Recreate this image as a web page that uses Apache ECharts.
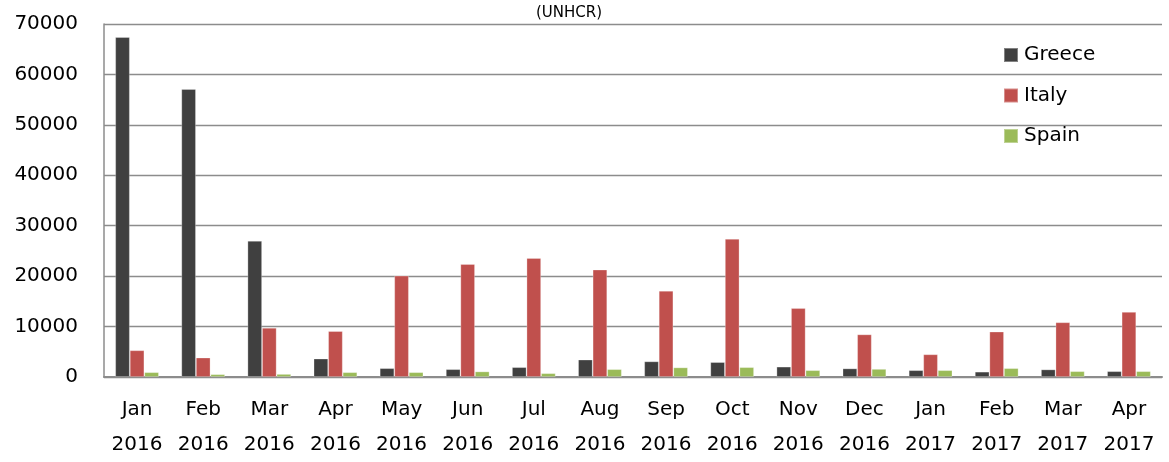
<!DOCTYPE html>
<html>
<head>
<meta charset="utf-8">
<script src="https://cdn.jsdelivr.net/npm/echarts@6/dist/echarts.min.js"></script>
<style>
html,body{margin:0;padding:0;background:#fff;}
#chart{width:1169px;height:462px;}
</style>
</head>
<body>
<div id="chart"></div>
<script>
const categories = ["Jan\n2016","Feb\n2016","Mar\n2016","Apr\n2016","May\n2016","Jun\n2016","Jul\n2016","Aug\n2016","Sep\n2016","Oct\n2016","Nov\n2016","Dec\n2016","Jan\n2017","Feb\n2017","Mar\n2017","Apr\n2017"];
const greece = [67400,57100,27000,3650,1750,1550,1950,3450,3100,2950,2050,1700,1350,1050,1500,1150];
const italy  = [5300,3850,9750,9100,20100,22400,23600,21300,17100,27400,13650,8450,4500,9000,10850,12900];
const spain  = [950,550,600,950,950,1100,750,1550,1900,1950,1350,1600,1350,1750,1150,1150];
const yTicks = {min:0, max:70000, interval:10000};

const font = "DejaVu Sans";
const chart = echarts.init(document.getElementById('chart'), null, {renderer:'canvas'});
chart.setOption({
  animation:false,
  backgroundColor:'#ffffff',
  title:{
    text:'(UNHCR)',
    left:536, top:6, padding:0,
    textStyle:{fontFamily:font, fontSize:15, fontWeight:'normal', color:'#000'}
  },
  legend:{
    orient:'vertical',
    left:1003, top:45, padding:0,
    itemWidth:14, itemHeight:14, itemGap:20.5,
    icon:'rect',
    textStyle:{fontFamily:font, fontSize:20, lineHeight:20, color:'#000', padding:[0,0,0,1]},
    data:['Greece','Italy','Spain']
  },
  grid:{left:104, right:7, top:24, bottom:85, containLabel:false},
  xAxis:{
    type:'category',
    data:categories,
    axisLine:{show:true, lineStyle:{color:'#8c8c8c', width:2}},
    axisTick:{show:false},
    axisLabel:{fontFamily:font, fontSize:20, lineHeight:35, color:'#000', margin:15, interval:0}
  },
  yAxis:{
    type:'value',
    min:yTicks.min, max:yTicks.max, interval:yTicks.interval,
    axisLine:{show:true, lineStyle:{color:'#8c8c8c', width:1.5}},
    axisTick:{show:false},
    splitLine:{show:true, lineStyle:{color:'#8c8c8c', width:1.3}},
    axisLabel:{fontFamily:font, fontSize:20, color:'#000', margin:26, formatter:function(v){return String(v);}}
  },
  series:[
    {name:'Greece', type:'bar', data:greece, barGap:'0%', barCategoryGap:'34%',
     itemStyle:{color:'#404040', borderColor:'rgba(255,255,255,0.35)', borderWidth:0.8}},
    {name:'Italy', type:'bar', data:italy, barGap:'0%', barCategoryGap:'34%',
     itemStyle:{color:'#c0504d', borderColor:'rgba(255,255,255,0.35)', borderWidth:0.8}},
    {name:'Spain', type:'bar', data:spain, barGap:'0%', barCategoryGap:'34%',
     itemStyle:{color:'#9bbb59', borderColor:'rgba(255,255,255,0.35)', borderWidth:0.8}}
  ]
});
</script>
</body>
</html>
